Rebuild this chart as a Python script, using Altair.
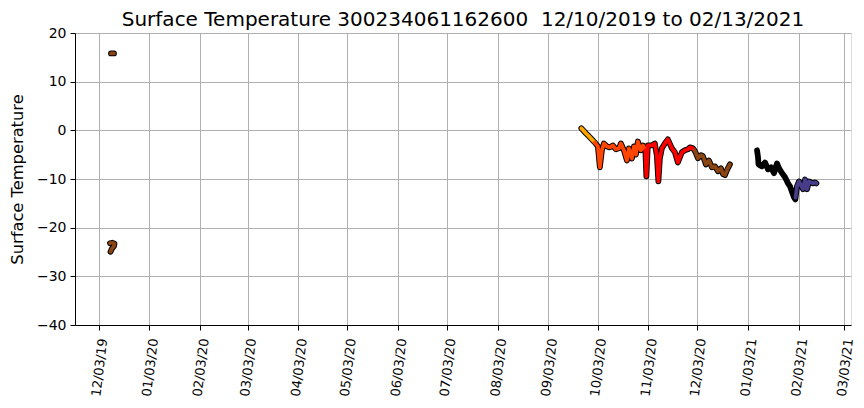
import altair as alt
import pandas as pd

# ---- data ----
# Dec 2019 upper blob
seg1_dates = ["2019-12-10T11:00", "2019-12-12T07:00"]
seg1_temp = [15.8, 15.8]
# Dec 2019 lower cluster
seg2_dates = ["2019-12-09T20:00", "2019-12-11T09:00", "2019-12-12T15:00",
              "2019-12-12T07:00", "2019-12-11T02:00", "2019-12-10T04:00"]
seg2_temp = [-23.2, -23.1, -23.3, -23.8, -24.3, -24.95]
# Sep 23 - Dec 18 2020
seg3_dates = [
    "2020-09-23T02:00", "2020-09-24T00:00", "2020-09-25T20:00", "2020-09-27T16:00",
    "2020-09-29T12:00", "2020-09-30T18:00",
    "2020-10-01T09:00", "2020-10-03T05:00", "2020-10-04T10:00", "2020-10-05T16:00",
    "2020-10-06T21:00", "2020-10-08T17:00", "2020-10-10T13:00", "2020-10-12T09:00",
    "2020-10-14T05:00", "2020-10-16T01:00", "2020-10-17T07:00", "2020-10-19T03:00",
    "2020-10-20T23:00", "2020-10-22T04:00", "2020-10-24T00:00", "2020-10-25T06:00",
    "2020-10-26T11:00", "2020-10-27T16:00", "2020-10-29T12:00", "2020-10-30T18:00",
    "2020-11-01T06:00", "2020-11-01T21:00", "2020-11-02T18:00", "2020-11-05T05:00",
    "2020-11-07T01:00", "2020-11-08T07:00", "2020-11-09T05:00", "2020-11-10T03:00",
    "2020-11-11T08:00", "2020-11-13T04:00", "2020-11-15T00:00", "2020-11-17T11:00",
    "2020-11-19T07:00", "2020-11-21T03:00", "2020-11-23T14:00", "2020-11-25T10:00",
    "2020-11-27T06:00", "2020-11-28T12:00", "2020-11-30T07:00",
    "2020-12-01T06:00", "2020-12-02T04:00", "2020-12-03T09:00", "2020-12-05T05:00",
    "2020-12-06T11:00", "2020-12-08T07:00", "2020-12-10T03:00", "2020-12-11T23:00",
    "2020-12-13T19:00", "2020-12-15T15:00", "2020-12-17T11:00", "2020-12-18T17:00",
]
seg3_temp = [
    0.4, 0.1, -0.6, -1.2, -1.85, -2.3,
    -2.5, -3.3, -7.6, -4.1, -2.7, -3.3, -3.5, -3.1,
    -3.9, -3.7, -2.7, -4.1, -6.2, -3.7, -5.8, -3.3,
    -5.0, -2.3, -4.1, -3.1,
    -4.1, -9.45, -3.1, -3.1, -2.7, -5.3, -10.5, -5.75,
    -3.7, -2.7, -1.85, -3.7, -4.5, -6.6, -4.5, -4.1,
    -3.9, -3.5, -3.7,
    -4.1, -4.7, -5.75, -5.1, -5.3, -7.0, -6.2, -7.6,
    -7.4, -8.4, -7.8, -9.0,
]
# Dec 19 - Dec 22 2020
seg4_dates = ["2020-12-19T22:00", "2020-12-21T03:00", "2020-12-22T23:00"]
seg4_temp = [-9.2, -8.2, -7.0]
# Jan 8 - Feb 13 2021
seg5_dates = [
    "2021-01-08T13:00", "2021-01-09T03:00", "2021-01-09T11:00", "2021-01-11T14:00",
    "2021-01-13T10:00", "2021-01-15T06:00", "2021-01-17T02:00", "2021-01-18T22:00",
    "2021-01-20T18:00", "2021-01-22T00:00", "2021-01-23T20:00", "2021-01-25T16:00",
    "2021-01-27T12:00", "2021-01-28T17:00", "2021-01-29T23:00", "2021-01-31T04:00",
    "2021-01-31T23:00",
    "2021-02-01T03:00", "2021-02-01T23:00", "2021-02-03T05:00", "2021-02-04T10:00",
    "2021-02-05T16:00", "2021-02-06T21:00", "2021-02-08T02:00", "2021-02-09T08:00",
    "2021-02-10T13:00", "2021-02-11T18:00", "2021-02-13T00:00", "2021-02-13T20:00",
]
seg5_temp = [
    -4.1, -5.5, -7.0, -7.4, -6.6, -8.0, -7.6, -8.8,
    -6.8, -7.8, -8.8, -9.65, -10.9, -11.5, -12.7, -13.8,
    -14.2,
    -13.8, -11.5, -10.5, -11.3, -12.1, -10.1, -12.1, -10.5,
    -10.7, -10.9, -10.7, -10.9,
]

month_names = ["Sep", "Oct", "Nov", "Dec", "Jan", "Feb"]
month_colors = ["#FFA500", "#FF4500", "#FF0000", "#8B4513", "#000000", "#483D8B"]
tick_dates = [(2019, 12)] + [(2020, m) for m in range(1, 13)] + [(2021, 1), (2021, 2), (2021, 3)]

# ---- build tables ----
segs = [(seg1_dates, seg1_temp), (seg2_dates, seg2_temp), (seg3_dates, seg3_temp),
        (seg4_dates, seg4_temp), (seg5_dates, seg5_temp)]
MON = ["Jan", "Feb", "Mar", "Apr", "May", "Jun", "Jul", "Aug", "Sep", "Oct", "Nov", "Dec"]
rows = []
idx = 0
for s, (ds, ts) in enumerate(segs):
    for d, t in zip(ds, ts):
        m = pd.Timestamp(d).month
        rows.append({"date": d, "temp": t, "seg": s, "idx": idx, "month": MON[m - 1]})
        idx += 1
df = pd.DataFrame(rows)

crows = []
cseg = 0
for s in df["seg"].unique():
    sub = df[df["seg"] == s].reset_index(drop=True)
    groups = []
    start = 0
    for i in range(1, len(sub) + 1):
        if i == len(sub) or sub.loc[i, "month"] != sub.loc[start, "month"]:
            groups.append((start, i))
            start = i
    for gi, (a, b) in enumerate(groups):
        end = b + 1 if gi < len(groups) - 1 else b
        month = sub.loc[a, "month"]
        for j in range(a, end):
            r = sub.loc[j].to_dict()
            r["cmonth"] = month
            r["cseg"] = cseg
            crows.append(r)
        cseg += 1
cdf = pd.DataFrame(crows)

FONT = "DejaVu Sans"
xscale = alt.Scale(domain=[alt.DateTime(year=2019, month=11, date=18, hours=11),
                           alt.DateTime(year=2021, month=3, date=7, hours=0)])
yscale = alt.Scale(domain=[-40, 20], nice=False)

xaxis = alt.Axis(values=[alt.DateTime(year=y, month=m, date=3) for y, m in tick_dates],
                 format="%m/%d/%y", labelAngle=-83, labelAlign="right",
                 labelBaseline="middle", labelOffset=4, labelPadding=8,
                 labelFontSize=13, labelFont=FONT, labelColor="black",
                 tickSize=5, tickColor="black", domainColor="black",
                 gridColor="#b0b0b0", gridWidth=1, title=None, labelOverlap=False)
yaxis = alt.Axis(values=[-40, -30, -20, -10, 0, 10, 20],
                 labelExpr="replace(datum.label, '-', '\u2212')",
                 labelFontSize=14, labelFont=FONT, labelColor="black",
                 labelPadding=4, tickSize=5, tickColor="black", domainColor="black",
                 gridColor="#b0b0b0", gridWidth=1,
                 title="Surface Temperature", titleFont=FONT, titleFontSize=16.3,
                 titleFontWeight="normal", titleColor="black", titlePadding=11)

base_x = alt.X("date:T", scale=xscale, axis=xaxis)
base_y = alt.Y("temp:Q", scale=yscale, axis=yaxis)

outline = alt.Chart(df).mark_line(color="black", strokeWidth=5.8, strokeCap="round",
                                  strokeJoin="round").encode(
    x=base_x, y=base_y, detail="seg:N", order="idx:Q")

colored = alt.Chart(cdf).mark_line(strokeWidth=3.8, strokeCap="round",
                                   strokeJoin="round").encode(
    x=alt.X("date:T", scale=xscale), y=alt.Y("temp:Q", scale=yscale),
    color=alt.Color("cmonth:N", scale=alt.Scale(domain=month_names, range=month_colors),
                    legend=None),
    detail="cseg:N", order="idx:Q")

chart = alt.layer(outline, colored).properties(
    width=776, height=292,
    title=alt.TitleParams("Surface Temperature 300234061162600\u00a0 12/10/2019 to 02/13/2021",
                          font=FONT, fontSize=20, fontWeight="normal", color="black",
                          anchor="middle", offset=6, frame="group", dy=10),
    autosize=alt.AutoSizeParams(type="none"),
    padding={"left": 67, "top": 25, "right": 5, "bottom": 75},
).configure_view(stroke="black", strokeWidth=1).configure(background="white")

chart.save("out.html", embed_options={"renderer": "svg", "actions": False})
